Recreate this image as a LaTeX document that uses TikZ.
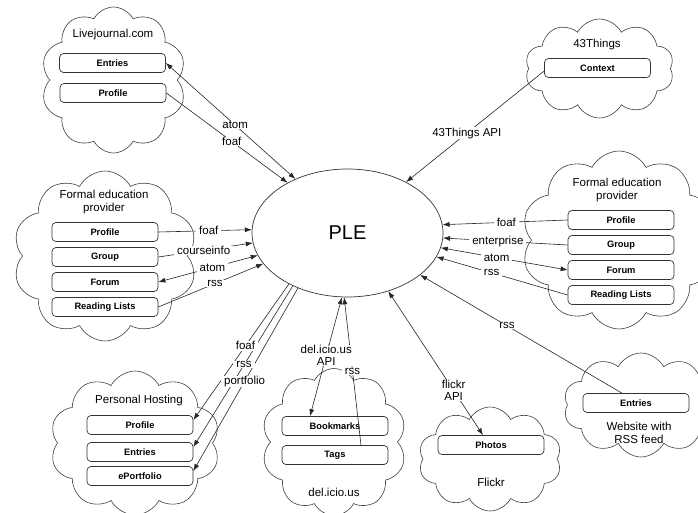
\documentclass[tikz,border=0pt]{standalone}
\usepackage{fontspec}
\setmainfont{Liberation Sans}
\usetikzlibrary{shapes.symbols,shapes.geometric,arrows.meta}
\begin{document}
\begin{tikzpicture}[x=1pt,y=-1pt,
  cloudy/.style={cloud, draw=black!75, line width=0.6pt, cloud puffs=10, cloud puff arc=125, cloud ignores aspect, inner sep=0pt},
  box/.style={draw=black!80, line width=0.7pt, rounded corners=4pt, minimum width=106pt, minimum height=19pt, inner sep=0pt, font=\bfseries\fontsize{9.3}{10}\selectfont},
  ttl/.style={font=\fontsize{11.5}{13.5}\selectfont, align=center, inner sep=0pt},
  lbl/.style={fill=white, inner xsep=3pt, inner ysep=0.5pt, font=\fontsize{11.5}{12.5}\selectfont, align=center},
  con/.style={line width=0.6pt, draw=black!85},
  arr/.style={con, -{Latex[length=7pt,width=5pt]}},
  biarr/.style={con, {Latex[length=7pt,width=5pt]}-{Latex[length=7pt,width=5pt]}}
]
\fill[white] (0,0) rectangle (698,513);
\useasboundingbox (0,0) rectangle (698,513);

% clouds
\node[cloudy, minimum width=145pt, minimum height=146pt] (c1) at (113.5,80) {};
\node[cloudy, minimum width=149pt, minimum height=99pt] (c2) at (599.5,68.5) {};
\node[cloudy, minimum width=184pt, minimum height=170pt] (c3) at (105,256) {};
\node[cloudy, minimum width=195pt, minimum height=178pt] (c4) at (619,240) {};
\node[cloudy, minimum width=155pt, minimum height=104pt] (c5) at (641,405) {};
\node[cloudy, minimum width=143pt, minimum height=104pt] (c6) at (490,459) {};
\node[cloudy, minimum width=145pt, minimum height=147pt] (c7) at (334,442) {};
\node[cloudy, minimum width=170pt, minimum height=144pt] (c8) at (135,443) {};

% titles
\node[ttl] (t1) at (113,35) {Livejournal.com};
\node[ttl] (t2) at (597,45) {43Things};
\node[ttl] (t3) at (104,202) {Formal education\\provider};
\node[ttl] (t4) at (617,190) {Formal education\\provider};
\node[ttl] (t5) at (139,401) {Personal Hosting};
\node[ttl] (t6) at (334,492) {del.icio.us};
\node[ttl] (t7) at (491,482) {Flickr};
\node[ttl] (t8) at (639,433) {Website with\\RSS feed};

% boxes
\node[box] (lje) at (112.5,63) {Entries};
\node[box] (ljp) at (113,93) {Profile};
\node[box] (ctx) at (597.5,68) {Context};
\node[box] (lfp) at (105,232) {Profile};
\node[box] (lfg) at (105,257) {Group};
\node[box] (lff) at (105,282) {Forum};
\node[box] (lfr) at (105,307) {Reading Lists};
\node[box] (rfp) at (621,220) {Profile};
\node[box] (rfg) at (621,245) {Group};
\node[box] (rff) at (621,270) {Forum};
\node[box] (rfr) at (621,295) {Reading Lists};
\node[box] (php) at (140,425) {Profile};
\node[box] (phe) at (140,452) {Entries};
\node[box] (pho) at (140,476) {ePortfolio};
\node[box] (dbm) at (335,426) {Bookmarks};
\node[box] (dtg) at (335,455) {Tags};
\node[box] (fph) at (491,445) {Photos};
\node[box] (wse) at (636,403) {Entries};

% PLE
\node[ellipse, draw=black!80, line width=0.7pt, minimum width=191pt, minimum height=128pt, inner sep=0pt, font=\fontsize{20}{24}\selectfont] (ple) at (347.5,233) {PLE};

% connectors
\draw[biarr] (lje.east) -- coordinate[pos=0.535] (p1) (ple.134.8);
\draw[arr] (ljp.east) -- coordinate[pos=0.54] (p2) (ple.140.3);
\draw[arr] ([yshift=-3pt]ctx.west) -- coordinate[pos=0.56] (p3) (ple.41.6);
\draw[arr] (lfp.east) -- coordinate[pos=0.54] (p4) (ple.178.8);
\draw[arr] (lfg.east) -- coordinate[pos=0.48] (p5) (ple.186.4);
\draw[biarr] (lff.east) -- coordinate[pos=0.545] (p6) (ple.194.3);
\draw[arr] (lfr.east) -- coordinate[pos=0.54] (p7) (ple.200.7);
\draw[arr] (rfp.west) -- coordinate[pos=0.49] (p8) (ple.5.3);
\draw[arr] (rfg.west) -- coordinate[pos=0.56] (p9) (ple.357.6);
\draw[biarr] (rff.west) -- coordinate[pos=0.56] (p10) (ple.351.5);
\draw[arr] (rfr.west) -- coordinate[pos=0.58] (p11) (ple.345);
\draw[arr] ([xshift=-14pt]wse.north) -- coordinate[pos=0.57] (p12) (ple.330);
\draw[biarr] (ple.305.3) -- coordinate[pos=0.69] (p13) ([xshift=-8pt]fph.north);
\draw[biarr] (ple.265.5) -- coordinate[pos=0.49] (p14) ([xshift=-25pt]dbm.north);
\draw[arr] ([xshift=26pt]dtg.north) -- coordinate[pos=0.5] (p15) (ple.267.5);
\draw[arr] (ple.221.2) -- coordinate[pos=0.455] (p16) ([yshift=5pt]php.east);
\draw[arr] (ple.224.7) -- coordinate[pos=0.49] (p17) ([yshift=5pt]phe.east);
\draw[arr] (ple.228) -- coordinate[pos=0.51] (p18) ([yshift=5pt]pho.east);

% labels
\node[lbl] (l1) at (p1) {atom};
\node[lbl] (l2) at (p2) {foaf};
\node[lbl] (l3) at (p3) {43Things API};
\node[lbl] (l4) at (p4) {foaf};
\node[lbl] (l5) at (p5) {courseinfo};
\node[lbl] (l6) at (p6) {atom};
\node[lbl] (l7) at (p7) {rss};
\node[lbl] (l8) at (p8) {foaf};
\node[lbl] (l9) at (p9) {enterprise};
\node[lbl] (l10) at (p10) {atom};
\node[lbl] (l11) at (p11) {rss};
\node[lbl] (l12) at (p12) {rss};
\node[lbl] (l13) at (p13) {flickr\\API};
\node[lbl] (l14) at (p14) {del.icio.us\\API};
\node[lbl] (l15) at (p15) {rss};
\node[lbl] (l16) at (p16) {foaf};
\node[lbl] (l17) at (p17) {rss};
\node[lbl] (l18) at (p18) {portfolio};
\end{tikzpicture}
\end{document}
